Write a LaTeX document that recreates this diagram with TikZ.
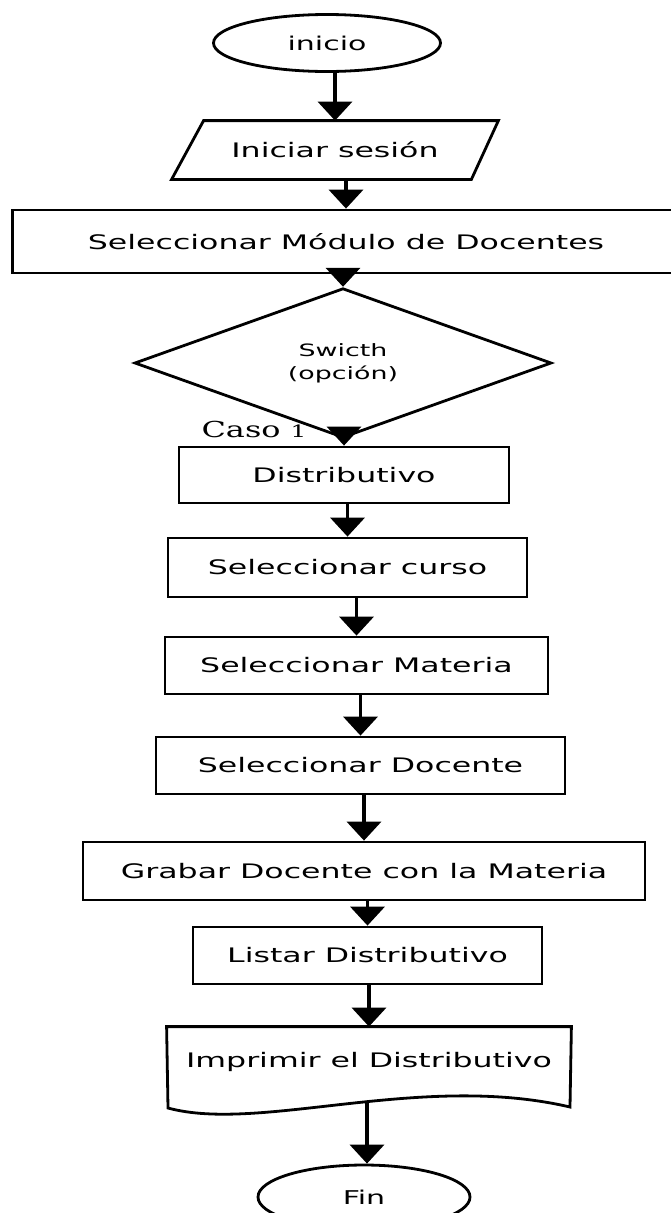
\documentclass[tikz,border=0pt]{standalone}
\usepackage{fontspec}
\usepackage{tikz}
\usetikzlibrary{shapes.geometric,arrows.meta}
\newfontfamily\flowfont[FakeStretch=1.58]{DejaVu Sans}
\newfontfamily\casofont[FakeStretch=1.45]{DejaVu Serif}
\tikzstyle{borde} = [draw=black, line width=2.8pt]
\tikzstyle{caja} = [borde, rectangle, inner sep=0pt, font=\flowfont\fontsize{20}{24}\selectfont]
\tikzstyle{terminal} = [borde, ellipse, inner sep=0pt, font=\flowfont\fontsize{19}{23}\selectfont]
\tikzstyle{decision} = [borde, diamond, inner sep=0pt, font=\flowfont\fontsize{17}{23}\selectfont, align=center]
\tikzstyle{flecha} = [line width=3.8pt, -{Triangle[width=34pt,length=19pt]}]
% flecha vertical sobre la x del destino
\newcommand{\flechaa}[2]{\draw [flecha] (#1.south -| #2.north) -- (#2.north);}

\begin{document}
\begin{tikzpicture}[x=1pt, y=-1pt]
	\useasboundingbox (0,0) rectangle (670,1213);
	\node [terminal, minimum width=227pt, minimum height=57pt] (inicio) at (327,43) {inicio};
	% paralelogramo
	\node [caja, draw=none, minimum width=324pt, minimum height=56pt] (sesion) at (335,150) {Iniciar sesi\'on};
	\draw [borde] ([xshift=32pt]sesion.north west) -- (sesion.north east)
		-- ([xshift=-27pt]sesion.south east) -- (sesion.south west) -- cycle;
	\node [caja, minimum width=667pt, minimum height=63pt] (modulo) at (346,241.5) {Seleccionar M\'odulo de Docentes};
	\node [decision, minimum width=417pt, minimum height=81pt] (switch) at (343,363) {Swicth\\(opci\'on)};
	\node [font=\casofont\fontsize{22}{26}\selectfont, inner sep=0pt, anchor=base] (caso) at (254,437) {Caso {\fontsize{17}{20}\selectfont 1}};
	\node [caja, minimum width=330pt, minimum height=56pt] (distrib) at (344,475) {Distributivo};
	\node [caja, minimum width=359pt, minimum height=59pt] (curso) at (347.5,567.5) {Seleccionar curso};
	\node [caja, minimum width=383pt, minimum height=57pt] (materia) at (356.5,665.5) {Seleccionar Materia};
	\node [caja, minimum width=409pt, minimum height=57pt] (docente) at (360.5,765.5) {Seleccionar Docente};
	\node [caja, minimum width=562pt, minimum height=58pt] (grabar) at (364,871) {Grabar Docente con la Materia};
	\node [caja, minimum width=349pt, minimum height=57pt] (listar) at (367.5,955.5) {Listar Distributivo};
	% documento impreso
	\node [caja, draw=none, minimum width=402pt, minimum height=68pt] (imprimir) at (369,1062) {Imprimir el Distributivo};
	\draw [borde] (imprimir.north west) -- (imprimir.north east) -- (570,1107)
		.. controls (420,1072) and (260,1133) .. (168,1108) -- cycle;
	\coordinate (onda) at (367,1101);
	\node [terminal, minimum width=212pt, minimum height=64pt] (fin) at (364,1197) {Fin};

	\flechaa{inicio}{sesion}
	\flechaa{sesion}{modulo}
	\flechaa{modulo}{switch}
	\flechaa{switch}{distrib}
	\flechaa{distrib}{curso}
	\flechaa{curso}{materia}
	\flechaa{materia}{docente}
	\flechaa{docente}{grabar}
	\flechaa{grabar}{listar}
	\flechaa{listar}{imprimir}
	\draw [flecha] (onda) -- (onda |- fin.north);
\end{tikzpicture}
\end{document}
